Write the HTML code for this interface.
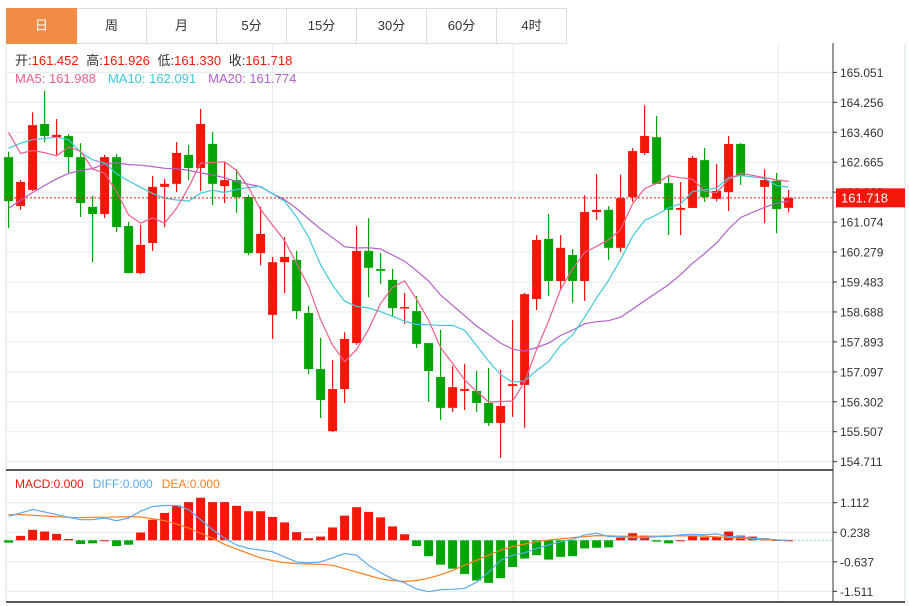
<!DOCTYPE html>
<html><head><meta charset="utf-8"><style>
html,body{margin:0;padding:0;background:#fff;}
body{width:909px;height:606px;overflow:hidden;position:relative;font-family:"Liberation Sans","Noto Sans CJK SC",sans-serif;}
.tabs{position:absolute;left:6px;top:8px;height:35px;display:flex;}
.tab{width:69px;height:34px;border:1px solid #dcdcdc;border-left:none;line-height:34px;text-align:center;font-size:13px;color:#333;}
.tab:first-child{border-left:1px solid #dcdcdc;background:#f28c44;color:#fff;border-color:#f28c44;}
svg{position:absolute;left:0;top:0;}
</style></head><body>
<div class="tabs">
<div class="tab">日</div>
<div class="tab">周</div>
<div class="tab">月</div>
<div class="tab">5分</div>
<div class="tab">15分</div>
<div class="tab">30分</div>
<div class="tab">60分</div>
<div class="tab">4时</div>
</div>
<svg id="chart" width="909" height="606"></svg>
<script>
const opens=[162.80,161.50,161.93,163.68,163.33,163.36,162.80,161.48,161.29,162.80,160.97,159.72,160.52,162.01,162.09,162.86,162.51,163.15,162.03,162.19,161.74,160.25,158.61,160.01,160.07,158.66,157.17,155.52,156.64,157.86,160.31,159.83,159.54,158.79,158.71,157.86,156.96,156.14,156.59,156.59,156.27,155.74,156.72,156.75,159.03,160.63,159.51,160.20,159.51,161.34,161.40,160.39,161.74,162.91,163.33,162.11,161.40,161.45,162.72,161.69,161.87,163.15,null,162.01,162.17,161.452];
const highs=[162.94,162.19,163.99,164.56,163.81,163.41,163.17,161.77,162.86,162.88,161.08,161.00,162.30,162.22,163.20,163.12,164.08,163.47,162.67,162.48,161.79,161.48,160.15,160.68,160.31,158.85,158.00,157.41,158.15,160.97,161.18,160.25,159.83,159.19,159.11,157.86,158.21,157.25,157.31,157.12,157.20,157.15,158.47,159.19,160.73,161.29,160.73,160.36,161.79,162.35,161.50,162.33,163.04,164.18,163.89,162.33,162.14,162.83,163.04,162.62,163.36,163.17,null,162.48,162.38,161.926];
const lows=[160.92,161.40,161.90,163.20,162.86,162.38,161.21,160.01,161.18,160.81,159.72,159.69,160.31,160.94,161.87,162.19,161.90,161.53,161.58,161.32,160.20,159.93,157.97,159.19,158.50,157.04,155.87,155.50,156.27,157.81,159.08,159.43,158.55,158.37,157.73,156.30,155.82,156.03,156.08,156.03,155.66,154.81,155.90,155.61,158.74,159.11,159.27,158.93,158.98,161.13,160.07,160.28,161.61,162.86,162.09,160.73,160.73,161.45,161.61,161.63,161.37,162.06,null,161.05,160.78,161.330];
const closes=[161.63,162.14,163.65,163.36,163.39,162.80,161.58,161.29,162.80,160.94,159.72,160.47,162.01,162.09,162.91,162.51,163.68,162.09,162.19,161.74,160.25,160.76,160.01,160.15,158.71,157.17,156.35,156.64,157.97,160.31,159.86,159.78,158.79,158.82,157.84,157.12,156.14,156.69,156.64,156.27,155.74,156.19,156.77,159.16,160.60,159.51,160.39,159.51,161.34,161.40,160.39,161.71,162.96,163.36,162.09,161.40,161.45,162.78,161.74,161.90,163.15,162.30,null,162.19,161.42,161.718];
const priorCloses=[157.89,159.54,159.67,159.80,159.93,160.07,160.20,160.33,160.47,160.60,160.81,162.72,162.99,163.12,163.44,164.93,163.26,163.65,163.81];
const priceTicks=["165.051","164.256","163.460","162.665","161.869","161.074","160.279","159.483","158.688","157.893","157.097","156.302","155.507","154.711"];
const macdVals=[-0.07,0.13,0.31,0.26,0.19,0.04,-0.11,-0.09,0.00,-0.17,-0.13,0.23,0.61,0.81,1.03,1.13,1.26,1.13,1.13,1.02,0.86,0.86,0.69,0.53,0.24,0.06,0.11,0.38,0.73,0.98,0.84,0.68,0.41,0.18,-0.17,-0.47,-0.72,-0.84,-1.00,-1.19,-1.26,-1.12,-0.79,-0.54,-0.44,-0.57,-0.49,-0.47,-0.24,-0.22,-0.21,0.08,0.21,0.14,-0.04,-0.09,0.00,0.14,0.09,0.11,0.26,0.14,0.11,0.06,0.01,0.00];
const diffVals=[0.71,0.81,0.91,0.84,0.76,0.68,0.61,0.61,0.66,0.58,0.66,0.86,1.00,1.03,1.03,0.91,0.61,0.31,0.06,-0.14,-0.24,-0.29,-0.34,-0.49,-0.64,-0.67,-0.64,-0.52,-0.39,-0.44,-0.74,-0.96,-1.14,-1.26,-1.44,-1.52,-1.46,-1.45,-1.42,-1.24,-0.94,-0.59,-0.44,-0.37,-0.24,-0.14,-0.04,0.03,0.16,0.21,0.11,0.11,0.08,0.08,0.11,0.11,0.16,0.18,0.16,0.19,0.11,0.11,0.06,0.04,0.01,0.00];
const deaVals=[0.76,0.76,0.74,0.72,0.70,0.68,0.67,0.68,0.68,0.69,0.70,0.69,0.64,0.58,0.48,0.36,0.21,0.06,-0.12,-0.26,-0.39,-0.52,-0.60,-0.66,-0.69,-0.70,-0.71,-0.74,-0.84,-0.94,-1.04,-1.14,-1.19,-1.22,-1.19,-1.12,-1.02,-0.89,-0.74,-0.59,-0.44,-0.29,-0.19,-0.11,-0.04,0.01,0.04,0.08,0.11,0.14,0.13,0.12,0.12,0.12,0.12,0.13,0.13,0.13,0.12,0.10,0.08,0.06,0.04,0.02,0.01,0.00];
const macdTicks=["1.112","0.238","-0.637","-1.511"];

const NS="http://www.w3.org/2000/svg";
const svg=document.getElementById('chart');
function mk(tag,attrs,parent){const e=document.createElementNS(NS,tag);for(const k in attrs)e.setAttribute(k,attrs[k]);(parent||svg).appendChild(e);return e;}
const L=6,R=833,T=43,MB=470,B=602;
const xAt=i=>8.6+12*i;
const yP=p=>102.3+(164.256-p)*37.65;
const yM=v=>540.3-v*33.8;

// grids
priceTicks.forEach(t=>{const y=yP(parseFloat(t));
 const g=mk('line',{x1:L,x2:R,y1:y,y2:y,stroke:'#e4ecf3','stroke-width':1});
 
 mk('line',{x1:R,x2:R+4,y1:y,y2:y,stroke:'#333'});
 const tx=mk('text',{x:840,y:y+4.5,'font-size':12,fill:'#333'});tx.textContent=t;
 
});
macdTicks.forEach(t=>{const y=yM(parseFloat(t));
 const g=mk('line',{x1:L,x2:R,y1:y,y2:y,stroke:'#e4ecf3'});
 
 mk('line',{x1:R,x2:R+4,y1:y,y2:y,stroke:'#333'});
 const tx=mk('text',{x:840,y:y+4.5,'font-size':12,fill:'#333'});tx.textContent=t;
 
});
[272.5,513,778].forEach(x=>{mk('line',{x1:x,x2:x,y1:T,y2:B,stroke:'#e4ecf3'});});
mk('line',{x1:L,x2:L,y1:T,y2:B,stroke:'#dde3e8'});
mk('line',{x1:905,x2:905,y1:T,y2:B,stroke:'#dde3e8'});
mk('line',{x1:L,x2:R,y1:MB,y2:MB,stroke:'#222','stroke-width':1.5});
mk('line',{x1:L,x2:905,y1:B,y2:B,stroke:'#222','stroke-width':1.5});
const ax=mk('line',{x1:R,x2:R,y1:T,y2:B,stroke:'#333'});


// MA computation
const all=priorCloses.concat(closes);
function ma(n){const out=[];const valid=[];const res=[];
 priorCloses.forEach(c=>valid.push(c));
 closes.forEach((c,i)=>{if(c===null){res.push(null);return;}valid.push(c);const s=valid.slice(-n);res.push(s.reduce((a,b)=>a+b,0)/s.length);});
 return res;}
function drawLine(vals,yf,color,name){let d='';vals.forEach((v,i)=>{if(v===null)return;d+=(d?'L':'M')+xAt(i).toFixed(1)+','+yf(v).toFixed(1);});
 const p=mk('path',{d:d,fill:'none',stroke:color,'stroke-width':1.2});
 }

// candles
closes.forEach((c,i)=>{if(c===null)return;const o=opens[i],h=highs[i],l=lows[i];
 const up=c>=o;const col=up?'#f21708':'#04a504';const x=xAt(i);
 const g=mk('g',{});
 
 mk('line',{x1:x,x2:x,y1:yP(h),y2:yP(l),stroke:col,'stroke-width':1.2},g);
 const top=yP(Math.max(o,c)),bot=yP(Math.min(o,c));
 mk('rect',{x:x-4.5,y:top,width:9,height:Math.max(1.5,bot-top),fill:col},g);
});
drawLine(ma(20),yP,'#b15fca','ma20-line');
drawLine(ma(10),yP,'#3fc9dd','ma10-line');
drawLine(ma(5),yP,'#ef5d8c','ma5-line');

// current price line
const cy=yP(closes[closes.length-1]);
const cl=mk('line',{x1:L,x2:R,y1:cy,y2:cy,stroke:'#f21708','stroke-dasharray':'2,2'});

const cb=mk('rect',{x:836,y:cy-9.5,width:69,height:19,fill:'#f21708'});

const ct=mk('text',{x:841,y:cy+4.5,'font-size':13,fill:'#fff'});ct.textContent=closes[closes.length-1].toFixed(3);

// MACD
mk('line',{x1:L,x2:R,y1:yM(0),y2:yM(0),stroke:'#9fd3ea','stroke-dasharray':'2,2'});
macdVals.forEach((v,i)=>{const x=xAt(i);const y0=yM(0),y1=yM(v);
 const r=mk('rect',{x:x-4.5,y:Math.min(y0,y1),width:9,height:Math.max(1,Math.abs(y1-y0)),fill:v>=0?'#f21708':'#04a504'});
 });
drawLine(deaVals,yM,'#ff7f1e','dea-line');
drawLine(diffVals,yM,'#59aaf0','diff-line');
</script>
<svg width="909" height="606" style="pointer-events:none">
<text x="15" y="65" font-size="13" fill="#f21708"><tspan fill="#333">开:</tspan>161.452 <tspan dx="4" fill="#333">高:</tspan>161.926 <tspan dx="4" fill="#333">低:</tspan>161.330 <tspan dx="4" fill="#333">收:</tspan>161.718</text>
<text x="15" y="83" font-size="13"><tspan fill="#ef5d8c">MA5: 161.988</tspan><tspan dx="12" fill="#3fc9dd">MA10: 162.091</tspan><tspan dx="12" fill="#b15fca">MA20: 161.774</tspan></text>
<text x="15" y="488" font-size="12"><tspan fill="#f21708">MACD:0.000</tspan><tspan dx="9" fill="#59aaf0">DIFF:0.000</tspan><tspan dx="9" fill="#ff7f1e">DEA:0.000</tspan></text>
</svg>
</body></html>
